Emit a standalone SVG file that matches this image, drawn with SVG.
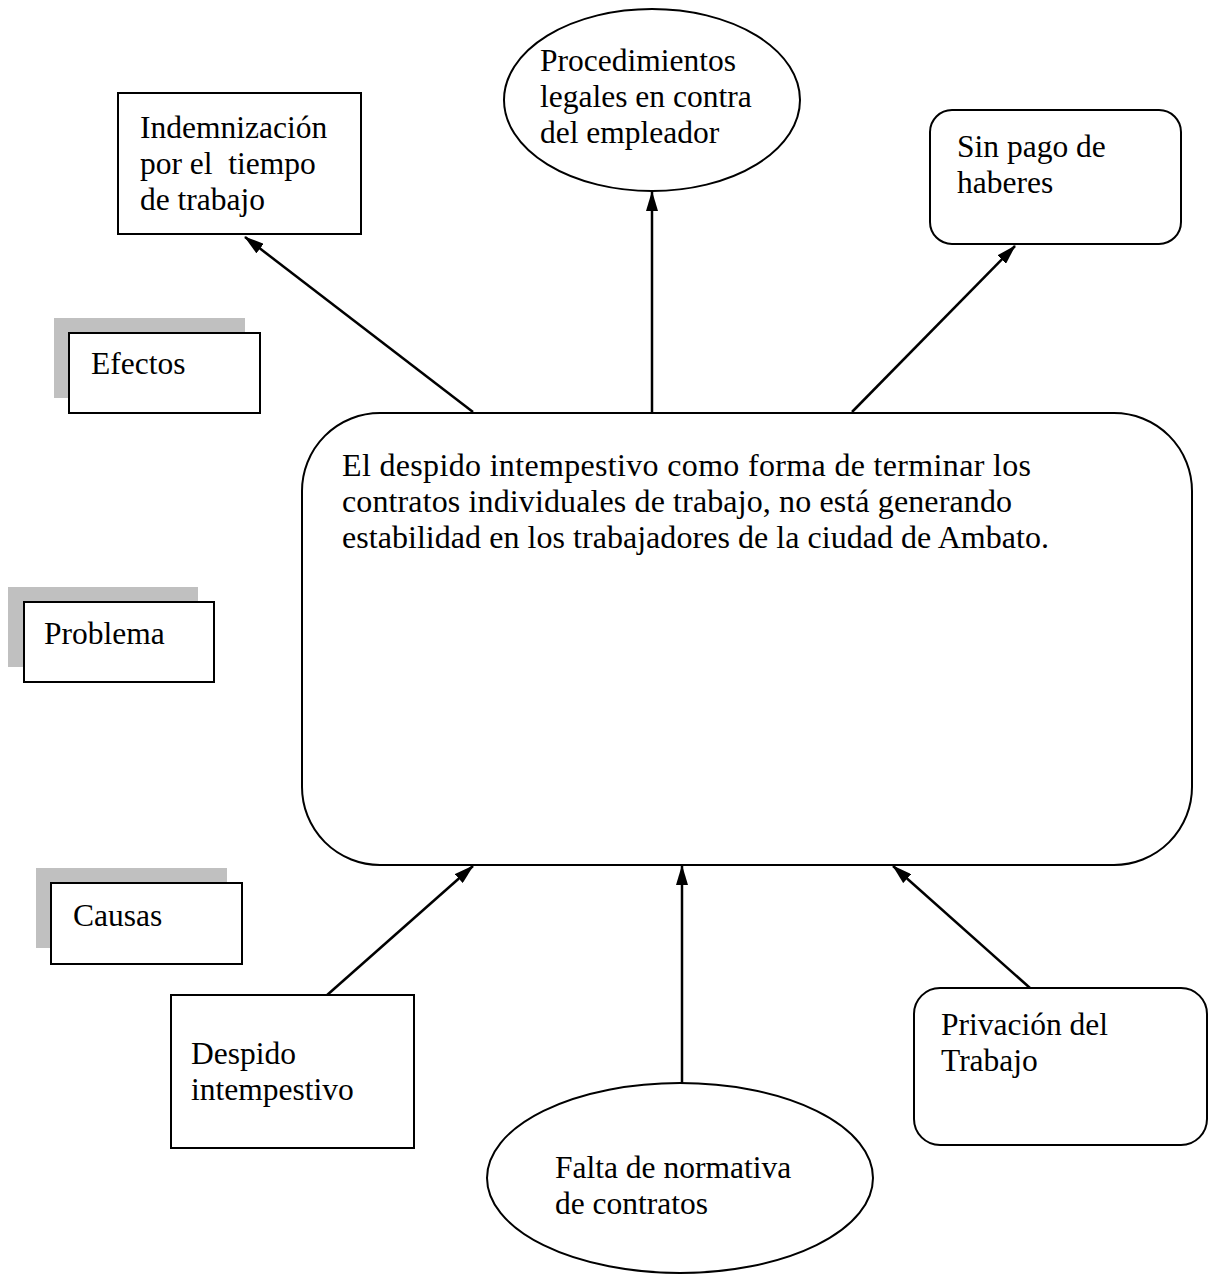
<svg xmlns="http://www.w3.org/2000/svg" width="1208" height="1274" viewBox="0 0 1208 1274">
<style>
.t{font-family:"Liberation Serif","Times New Roman",serif;font-size:31.5px;fill:#000}
.tc{font-size:32px}
.b{fill:#fff;stroke:#000;stroke-width:2}
.s{fill:#c0c0c0}
.c{stroke:#000;stroke-width:2.5;fill:none;marker-end:url(#ah)}
</style>
<defs>
<marker id="ah" viewBox="0 0 20 12" refX="19" refY="6" markerWidth="20" markerHeight="12" markerUnits="userSpaceOnUse" orient="auto">
<path d="M0,0 L20,6 L0,12 z" fill="#000"/>
</marker>
</defs>
<rect width="1208" height="1274" fill="#fff"/>
<g id="connectors">
<path d="M473,412 L245,237" class="c"/>
<path d="M652,412 L652,192" class="c"/>
<path d="M852,412 L1015,246" class="c"/>
<path d="M326,996 L473,866" class="c"/>
<path d="M682,1084 L682,866" class="c"/>
<path d="M1030,988 L893,866" class="c"/>
</g>
<g id="efectos">
<rect class="s" x="54" y="318" width="191" height="80"/>
<rect class="b" x="69" y="333" width="191" height="80"/>
<text class="t" x="91" y="374">Efectos</text>
</g>
<g id="problema">
<rect class="s" x="8" y="587" width="190" height="80"/>
<rect class="b" x="24" y="602" width="190" height="80"/>
<text class="t" x="44" y="644">Problema</text>
</g>
<g id="causas">
<rect class="s" x="36" y="868" width="191" height="80"/>
<rect class="b" x="51" y="883" width="191" height="81"/>
<text class="t" x="73" y="926">Causas</text>
</g>
<g id="indemnizacion">
<rect class="b" x="118" y="93" width="243" height="141"/>
<text class="t" x="140" y="138">Indemnización</text>
<text class="t" x="140" y="174" xml:space="preserve">por el  tiempo</text>
<text class="t" x="140" y="210">de trabajo</text>
</g>
<g id="procedimientos">
<ellipse class="b" cx="652" cy="100" rx="148" ry="91"/>
<text class="t" x="540" y="71">Procedimientos</text>
<text class="t" x="540" y="107">legales en contra</text>
<text class="t" x="540" y="143">del empleador</text>
</g>
<g id="sinpago">
<rect class="b" x="930" y="110" width="251" height="134" rx="22"/>
<text class="t" x="957" y="157">Sin pago de</text>
<text class="t" x="957" y="193">haberes</text>
</g>
<g id="problema-central">
<rect class="b" x="302" y="413" width="890" height="452" rx="78"/>
<text class="t tc" x="342" y="476" textLength="689" lengthAdjust="spacing">El despido intempestivo como forma de terminar los</text>
<text class="t tc" x="342" y="512" textLength="670" lengthAdjust="spacing">contratos individuales de trabajo, no está generando</text>
<text class="t tc" x="342" y="548" textLength="707" lengthAdjust="spacing">estabilidad en los trabajadores de la ciudad de Ambato.</text>
</g>
<g id="despido">
<rect class="b" x="171" y="995" width="243" height="153"/>
<text class="t" x="191" y="1064">Despido</text>
<text class="t" x="191" y="1100">intempestivo</text>
</g>
<g id="falta">
<ellipse class="b" cx="680" cy="1178" rx="193" ry="95"/>
<text class="t" x="555" y="1178">Falta de normativa</text>
<text class="t" x="555" y="1214">de contratos</text>
</g>
<g id="privacion">
<rect class="b" x="914" y="988" width="293" height="157" rx="26"/>
<text class="t" x="941" y="1035">Privación del</text>
<text class="t" x="941" y="1071">Trabajo</text>
</g>
</svg>
